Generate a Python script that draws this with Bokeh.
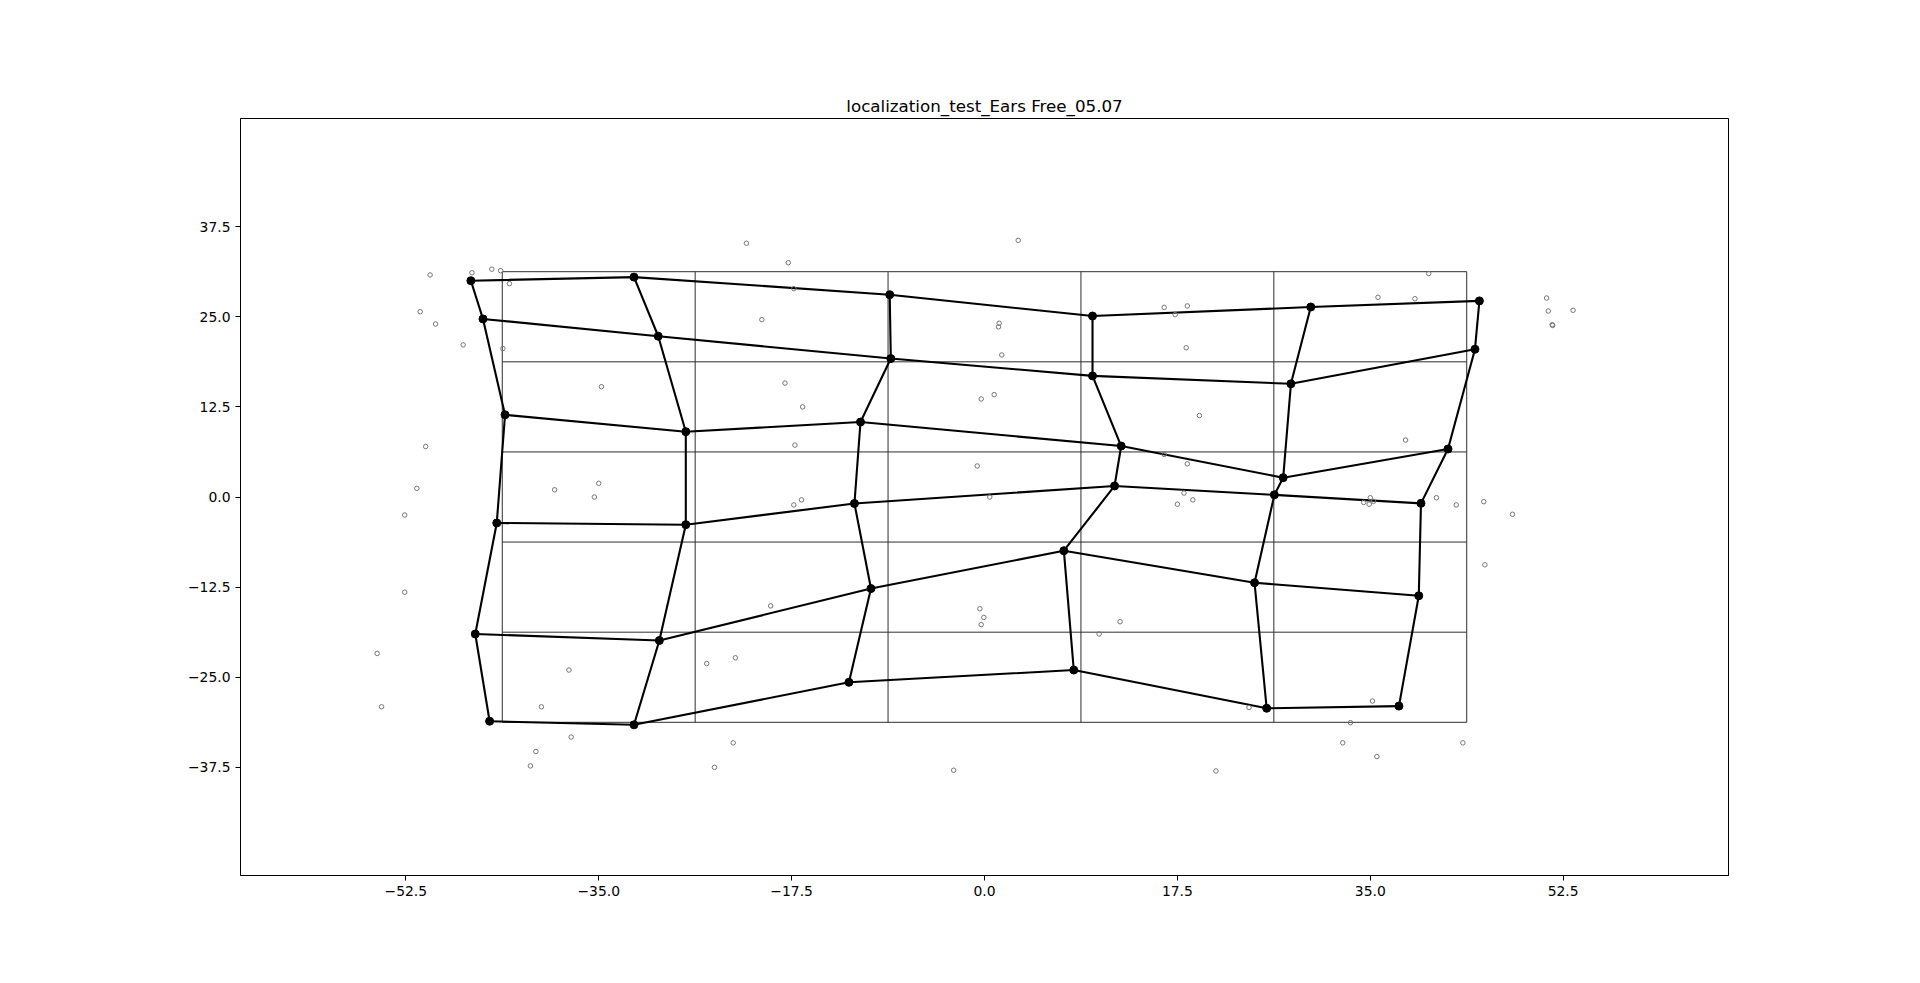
from bokeh.plotting import figure
from bokeh.models import Range1d, FixedTicker
from bokeh.embed import file_html
from bokeh.resources import INLINE

TITLE = "localization_test_Ears Free_05.07"

# target grid (speaker positions)
target_x = [-43.75, -26.25, -8.75, 8.75, 26.25, 43.75]
target_y = [31.25, 18.75, 6.25, -6.25, -18.75, -31.25]

# mean responses, 6 rows (top -> bottom) x 6 columns (left -> right)
mean_x = [
    -46.6, -31.8, -8.6, 9.8, 29.6, 44.9,
    -45.5, -29.6, -8.5, 9.8, 27.8, 44.5,
    -43.5, -27.1, -11.25, 12.4, 27.1, 42.05,
    -44.25, -27.1, -11.8, 11.8, 26.3, 39.6,
    -46.2, -29.5, -10.3, 7.2, 24.5, 39.4,
    -44.9, -31.8, -12.3, 8.1, 25.6, 37.6,
]
mean_y = [
    30.0, 30.5, 28.06, 25.1, 26.35, 27.2,
    24.7, 22.3, 19.2, 16.8, 15.7, 20.5,
    11.4, 9.06, 10.4, 7.07, 2.68, 6.66,
    -3.6, -3.84, -0.9, 1.53, 0.3, -0.88,
    -19.0, -19.9, -12.7, -7.45, -11.9, -13.7,
    -31.1, -31.6, -25.7, -24.0, -29.3, -29.0,
]

# individual responses
resp_x = [
    -50.3, -46.5, -44.7, -43.9, -43.1, -51.2, -49.8, -47.3, -43.7, -34.75,
    -50.7, -51.5, -39.0, -35.0, -35.4,
    -21.6, -17.8, -17.3, -20.2, -18.1, -16.5, -17.2, -16.6, -17.3,
    3.06, 1.33, 1.27, 1.57, -0.3, 0.88, -0.66, 0.48,
    16.3, 18.4, 17.3, 18.3, 19.5, 16.3, 18.4, 18.1, 18.9, 17.5,
    40.3, 35.7, 39.05, 51.0, 51.15, 53.4, 51.5, 51.55, 38.2,
    34.4, 35.0, 35.3, 34.9, 41.0, 42.8, 45.3, 47.9, 45.4,
    35.2, 33.2, 32.5, 43.4, 35.6,
    -0.42, -0.06, -0.3, 12.3, 10.4, 24.0, 21.0,
    -19.4, -25.2, -22.6, -22.8, -24.5, -2.8,
    -52.6, -52.6, -55.1, -54.7, -37.7, -40.2, -37.5, -40.7, -41.2,
]
resp_y = [
    30.8, 31.1, 31.6, 31.4, 29.6, 25.7, 24.0, 21.1, 20.6, 15.3,
    7.0, 1.2, 1.0, 1.9, 0.0,
    35.2, 32.5, 28.9, 24.6, 15.8, 12.5, 7.2, -0.4, -1.1,
    35.6, 24.1, 23.6, 19.7, 13.6, 14.2, 4.3, 0.0,
    26.3, 26.5, 25.3, 20.7, 11.3, 5.9, 4.6, 0.55, -0.4, -1.0,
    31.0, 27.7, 27.5, 27.6, 25.8, 25.9, 23.9, 23.8, 7.9,
    -0.75, -0.1, -0.6, -1.0, -0.1, -1.1, -0.65, -2.4, -9.4,
    -28.3, -31.3, -34.1, -34.1, -36.0,
    -15.5, -16.7, -17.7, -17.3, -19.0, -29.2, -38.0,
    -15.1, -23.1, -22.3, -34.1, -37.5, -37.9,
    -2.5, -13.2, -21.7, -29.1, -24.0, -29.1, -33.3, -35.3, -37.3,
]

x_ticks = [-52.5, -35.0, -17.5, 0.0, 17.5, 35.0, 52.5]
x_tick_labels = ["\u221252.5", "\u221235.0", "\u221217.5", "0.0", "17.5", "35.0", "52.5"]
y_ticks = [-37.5, -25.0, -12.5, 0.0, 12.5, 25.0, 37.5]
y_tick_labels = ["\u221237.5", "\u221225.0", "\u221212.5", "0.0", "12.5", "25.0", "37.5"]

FONT = "DejaVu Sans"

p = figure(
    width=1920, height=983,
    output_backend="svg", toolbar_location=None,
    x_range=Range1d(-67.5, 67.5), y_range=Range1d(-52.5, 52.5),
    min_border_left=240, min_border_right=192,
    min_border_top=118, min_border_bottom=108,
    title=TITLE,
)
p.background_fill_color = "white"
p.border_fill_color = "white"
p.outline_line_color = "black"
p.outline_line_width = 1
p.grid.visible = False

p.title.align = "center"
p.title.text_font = FONT
p.title.text_font_style = "normal"
p.title.text_font_size = "16.7px"
p.title.text_color = "black"
p.title.standoff = 6

p.xaxis.ticker = FixedTicker(ticks=x_ticks)
p.yaxis.ticker = FixedTicker(ticks=y_ticks)
p.xaxis.major_label_overrides = {t: l for t, l in zip(x_ticks, x_tick_labels)}
p.yaxis.major_label_overrides = {t: l for t, l in zip(y_ticks, y_tick_labels)}
for ax in (p.xaxis, p.yaxis):
    ax.major_tick_out = 5
    ax.major_tick_in = 0
    ax.minor_tick_out = 0
    ax.minor_tick_in = 0
    ax.major_tick_line_color = "black"
    ax.major_tick_line_width = 1
    ax.axis_line_color = "black"
    ax.major_label_text_font = FONT
    ax.major_label_text_font_size = "13.9px"
    ax.major_label_text_color = "black"
    ax.major_label_standoff = 5

# target grid
gxs, gys = [], []
for ty in target_y:
    gxs.append([target_x[0], target_x[-1]])
    gys.append([ty, ty])
for tx in target_x:
    gxs.append([tx, tx])
    gys.append([target_y[-1], target_y[0]])
p.multi_line(gxs, gys, line_color="#2e2e2e", line_width=1)

# mesh of mean responses
n = len(target_x)
mxs, mys = [], []
for r in range(len(target_y)):
    mxs.append(mean_x[r * n:(r + 1) * n])
    mys.append(mean_y[r * n:(r + 1) * n])
for c in range(n):
    mxs.append(mean_x[c::n])
    mys.append(mean_y[c::n])
p.multi_line(mxs, mys, line_color="black", line_width=2.1, line_join="round")
p.scatter(mean_x, mean_y, marker="circle", size=8, fill_color="black", line_color="black")

# individual responses
p.scatter(resp_x, resp_y, marker="circle", size=4.5, fill_color=None,
          line_color="#777777", line_width=1)

open("out.html", "w").write(file_html(p, INLINE))
